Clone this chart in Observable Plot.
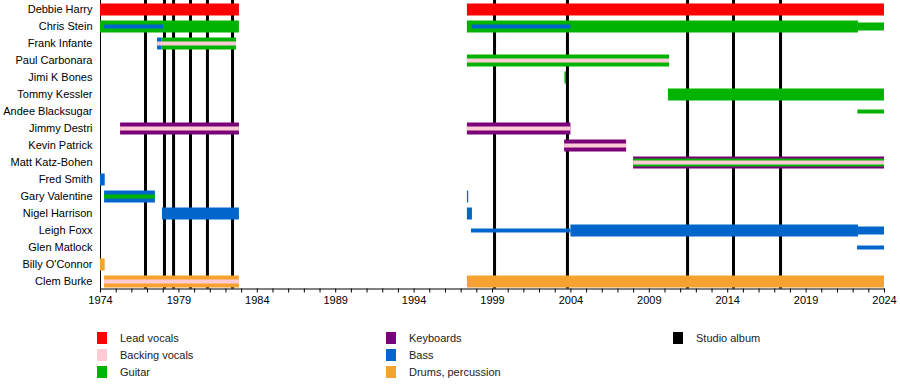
<!DOCTYPE html>
<html>
<head>
<meta charset="utf-8">
<script src="https://cdn.jsdelivr.net/npm/d3@7"></script>
<script src="https://cdn.jsdelivr.net/npm/@observablehq/plot@0.6"></script>
<style>
  html, body { margin: 0; padding: 0; background: #fff; }
  #wrap { position: relative; width: 900px; height: 388px; font-family: "Liberation Sans", Arial, sans-serif; }
  #chart svg { display: block; }
  .lg { position: absolute; font-size: 11px; color: #222; line-height: 12px; white-space: nowrap; }
  .sw { position: absolute; width: 10px; height: 12px; }
</style>
</head>
<body>
<div id="wrap"><div id="chart"></div><div id="legend"></div></div>
<script>
// ---- data ----
const members = ["Debbie Harry","Chris Stein","Frank Infante","Paul Carbonara","Jimi K Bones","Tommy Kessler","Andee Blacksugar","Jimmy Destri","Kevin Patrick","Matt Katz-Bohen","Fred Smith","Gary Valentine","Nigel Harrison","Leigh Foxx","Glen Matlock","Billy O'Connor","Clem Burke"];

const roleNames = ["Lead vocals","Backing vocals","Guitar","Keyboards","Bass","Drums, percussion"];
const roleColors = ["#FF0000","#FFCCD5","#00B300","#7A007A","#0066CC","#F7A130"];

// [member, start, end, tier] (tier 1 = main role, 2 = secondary, 3 = minor)
const leadVocals = [
  ["Debbie Harry",1974,1982.86,1],["Debbie Harry",1997.4,2024,1]
];
const backingVocals = [
  ["Frank Infante",1977.64,1982.67,3],["Paul Carbonara",1997.4,2010.29,3],
  ["Jimmy Destri",1975.28,1982.86,3],["Jimmy Destri",1997.4,2004.0,3],
  ["Kevin Patrick",2003.6,2007.55,3],["Matt Katz-Bohen",2008.0,2024,3],
  ["Clem Burke",1974.26,1982.86,3]
];
const guitar = [
  ["Chris Stein",1974,1982.86,1],["Chris Stein",1997.4,2022.34,1],["Chris Stein",2022.34,2024,2],
  ["Frank Infante",1977.93,1982.67,1],["Paul Carbonara",1997.4,2010.29,1],
  ["Jimi K Bones",2003.62,2003.72,1],["Tommy Kessler",2010.22,2024,1],
  ["Andee Blacksugar",2022.3,2024,3],["Gary Valentine",1974.26,1977.5,3],
  ["Matt Katz-Bohen",2008.0,2024,2]
];
const keyboards = [
  ["Jimmy Destri",1975.28,1982.86,1],["Jimmy Destri",1997.4,2004.0,1],
  ["Kevin Patrick",2003.6,2007.55,1],["Matt Katz-Bohen",2008.0,2024,1]
];
const bass = [
  ["Chris Stein",1974.27,1978.02,3],["Chris Stein",1997.7,2004.0,3],
  ["Frank Infante",1977.64,1977.93,1],["Fred Smith",1974,1974.3,1],
  ["Gary Valentine",1974.26,1977.5,1],["Gary Valentine",1997.4,1997.48,1],
  ["Nigel Harrison",1977.95,1982.86,1],["Nigel Harrison",1997.4,1997.72,1],
  ["Leigh Foxx",1997.66,2004.0,3],["Leigh Foxx",2004.0,2022.34,1],["Leigh Foxx",2022.34,2024,2],
  ["Glen Matlock",2022.28,2024,3]
];
const drums = [
  ["Billy O'Connor",1974,1974.3,1],["Clem Burke",1974.26,1982.86,1],["Clem Burke",1997.4,2024,1]
];

const studioAlbums = [1976.87, 1978.08, 1978.66, 1979.74, 1980.82, 1982.42, 1999.13, 2003.78, 2011.44, 2014.37, 2017.37];

const yearTicks = d3.range(1974, 2025);
const labelEvery = 5;

// ---- build table ----
const byRole = [leadVocals, backingVocals, guitar, keyboards, bass, drums];
const segments = byRole.flatMap((arr, i) =>
  arr.map(([member, start, end, tier]) => ({member, start, end, tier, role: roleNames[i]})));

const tierWidth = {1: 12, 2: 8, 3: 4};

const barMarks = [1, 2, 3].map(t =>
  Plot.ruleY(segments.filter(d => d.tier === t), {
    y: "member", x1: "start", x2: "end", stroke: "role", strokeWidth: tierWidth[t]
  })
);

const chart = Plot.plot({
  width: 900,
  height: 312,
  marginLeft: 100,
  marginRight: 16,
  marginTop: 0,
  marginBottom: 23.5,
  style: {fontFamily: "'Liberation Sans', Arial, sans-serif", fontSize: "11px", color: "#000", background: "#fff"},
  x: {
    domain: [1974, 2024],
    ticks: yearTicks,
    tickFormat: d => ((d - 1974) % labelEvery === 0 ? String(d) : ""),
    tickSize: 4,
    tickPadding: 3,
    line: true,
    label: null
  },
  y: {
    type: "point",
    domain: members,
    range: [7, 282.5],
    padding: 0,
    tickSize: 0,
    tickPadding: 8,
    line: true,
    label: null
  },
  color: {domain: roleNames, range: roleColors},
  marks: [
    Plot.ruleX(studioAlbums, {x: d => d, stroke: "#000", strokeWidth: 3}),
    ...barMarks
  ]
});
document.getElementById("chart").appendChild(chart);

// ---- legend ----
const legendItems = roleNames.map((n, i) => ({name: n, color: roleColors[i]}))
  .concat([{name: "Studio album", color: "#000"}]);
const colX = [97, 386, 673];
const rowY = [332, 349, 366];
const lg = document.getElementById("legend");
legendItems.forEach((it, i) => {
  const c = Math.floor(i / 3), r = i % 3;
  const sw = document.createElement("div");
  sw.className = "sw";
  sw.style.left = colX[c] + "px";
  sw.style.top = rowY[r] + "px";
  sw.style.background = it.color;
  lg.appendChild(sw);
  const t = document.createElement("div");
  t.className = "lg";
  t.style.left = (colX[c] + 23) + "px";
  t.style.top = rowY[r] + "px";
  t.textContent = it.name;
  lg.appendChild(t);
});
</script>
</body>
</html>
